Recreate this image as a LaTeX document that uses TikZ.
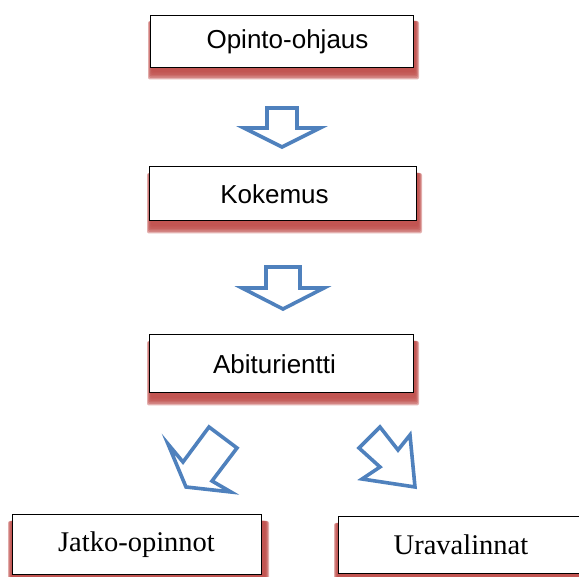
\documentclass[tikz,border=0pt]{standalone}
\usepackage{fontspec}
\setmainfont{Liberation Serif}
\newfontfamily\boxsans{Liberation Sans}
\begin{document}
\begin{tikzpicture}[x=1pt,y=-1pt,
  flowbox/.style={draw=black, line width=1pt, fill=white, inner sep=0pt},
  sansbox/.style={flowbox, font=\boxsans\fontsize{26}{30}\selectfont},
  serifbox/.style={flowbox, font=\fontsize{28.5}{33}\selectfont},
  blockarrow/.style={draw=arrowblue, line width=3.6pt, fill=white, line join=miter}]
\definecolor{arrowblue}{HTML}{4F81BD}
\definecolor{shadowred}{HTML}{C0504D}
\useasboundingbox (0,0) rectangle (579,577);
\clip (0,0) rectangle (579,577);
% shadows
\newcommand{\mkshadow}[4]{%
  \foreach \k in {0,1,2,3,4,5}{
    \fill[shadowred, opacity=0.45, rounded corners=2pt]
      (#1+2-\k*0.8, #2+6) rectangle (#3+2+\k*0.8, #4+5+\k*1.5);
  }}
\mkshadow{150}{15}{413}{67}
\mkshadow{149}{167}{416}{221}
\mkshadow{149}{335}{413}{393}
\mkshadow{10}{515}{263}{574}
\mkshadow{336}{517}{582}{573}
% boxes
\node[sansbox, minimum width=263pt, minimum height=52pt, text width=240pt, align=center] (b1) at (281.5,42) {\hspace*{12pt}Opinto-ohjaus};
\node[sansbox, minimum width=267pt, minimum height=54pt, text width=240pt, align=center] (b2) at (282.5,194) {\hspace*{-16pt}Kokemus};
\node[sansbox, minimum width=264pt, minimum height=58pt, text width=240pt, align=center] (b3) at (281,364) {\hspace*{-13pt}Abiturientti};
\node[serifbox, minimum width=249pt, minimum height=59pt] (b4) at (136.5,544.5) {Jatko-opinnot};
\node[serifbox, minimum width=246pt, minimum height=56pt] (b5) at (461,545) {Uravalinnat};
% block arrows
\draw[blockarrow] (267,108) -- (297,108) -- (297,128) -- (320,128) -- (282,147) -- (244,128) -- (267,128) -- cycle;
\draw[blockarrow] (266,267) -- (300,267) -- (300,288) -- (324,288) -- (283,309) -- (242,288) -- (266,288) -- cycle;
\draw[blockarrow] (209,427) -- (237,448) -- (212,481) -- (231,492) -- (186,487) -- (168,444) -- (183,462) -- cycle;
\draw[blockarrow] (380,427) -- (398,450) -- (410,435) -- (415,487) -- (362,479) -- (380,467) -- (359,448) -- cycle;
\end{tikzpicture}
\end{document}
